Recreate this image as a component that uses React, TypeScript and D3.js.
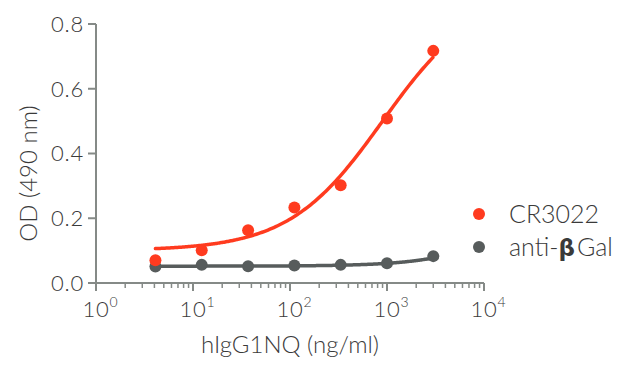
import React, { useEffect, useRef } from 'react'
import * as d3 from 'd3'

// concentrations (ng/ml), 3-fold dilution series
const conc = [4.1, 12.3, 37, 111, 333, 1000, 3000]
const cr3022 = [0.07, 0.101, 0.163, 0.233, 0.302, 0.508, 0.717]
const antiBGal = [0.051, 0.056, 0.052, 0.054, 0.056, 0.061, 0.083]

// 4PL fit params: [bottom, top, ec50, hill]
const cr3022Fit = [0.1, 0.9, 900, 0.9]
const antiBGalFit = [0.052, 0.5, 50000, 1]

const yTicks = [0, 0.2, 0.4, 0.6, 0.8]
const xTicks = [1, 10, 100, 1000, 10000]
// legend labels split so the beta can be drawn bolder, like the source
const seriesNames = [['CR3022'], ['anti-', 'β', 'Gal']]
const colors = ['#ff3b1f', '#575c5c']

const W = 627
const H = 371
const margin = { left: 96, right: 143, top: 24, bottom: 88 }
const axisColor = '#858a87'
const textColor = '#3a3a3a'
const font = '"Lato Light", Lato, "Open Sans", sans-serif'

const fourPL = (p, x) => p[0] + (p[1] - p[0]) / (1 + Math.pow(p[2] / x, p[3]))

const App = () => {
  const ref = useRef(null)

  useEffect(() => {
    const svg = d3.select(ref.current)
    svg.selectAll('*').remove()

    const x = d3.scaleLog().domain([1, 10000]).range([margin.left, W - margin.right])
    const y = d3.scaleLinear().domain([0, 0.8]).range([H - margin.bottom, margin.top])

    const g = svg.append('g')
    const txt = (sel, size) => sel
      .attr('font-family', font).attr('font-weight', 300)
      .attr('font-size', size).attr('fill', textColor)

    // y axis
    g.append('line')
      .attr('x1', x(1)).attr('x2', x(1))
      .attr('y1', y(0.8)).attr('y2', y(0))
      .attr('stroke', axisColor).attr('stroke-width', 2)
    yTicks.forEach(t => {
      g.append('line')
        .attr('x1', x(1) - 8).attr('x2', x(1))
        .attr('y1', y(t)).attr('y2', y(t))
        .attr('stroke', axisColor).attr('stroke-width', 2)
      txt(g.append('text'), 22)
        .attr('x', x(1) - 12).attr('y', y(t))
        .attr('dy', '0.36em')
        .attr('text-anchor', 'end')
        .attr('letter-spacing', 0.8)
        .text(t.toFixed(1))
    })

    // x axis
    g.append('line')
      .attr('x1', x(1)).attr('x2', x(10000))
      .attr('y1', y(0)).attr('y2', y(0))
      .attr('stroke', axisColor).attr('stroke-width', 2)
    const minors = []
    for (let d = 1; d < 10000; d *= 10) {
      for (let k = 2; k <= 9; k++) minors.push(d * k)
    }
    minors.forEach(t => {
      g.append('line')
        .attr('x1', x(t)).attr('x2', x(t))
        .attr('y1', y(0)).attr('y2', y(0) + 5)
        .attr('stroke', axisColor).attr('stroke-width', 1.5)
    })
    xTicks.forEach((t, i) => {
      g.append('line')
        .attr('x1', x(t)).attr('x2', x(t))
        .attr('y1', y(0)).attr('y2', y(0) + 8)
        .attr('stroke', axisColor).attr('stroke-width', 2)
      const lbl = txt(g.append('text'), 22)
        .attr('x', x(t) + 4).attr('y', y(0) + 34)
        .attr('text-anchor', 'middle')
      lbl.append('tspan').attr('letter-spacing', 0.8).text('10')
      lbl.append('tspan').attr('dy', -10).attr('font-size', 14).text(String(i))
    })

    // axis titles
    txt(g.append('text'), 24)
      .attr('x', (x(1) + x(10000)) / 2).attr('y', 353)
      .attr('text-anchor', 'middle')
      .text('hIgG1NQ (ng/ml)')
    txt(g.append('text'), 24)
      .attr('transform', `translate(37,${(y(0) + y(0.8)) / 2 + 20}) rotate(-90)`)
      .attr('text-anchor', 'middle')
      .text('OD (490 nm)')

    // fitted curves
    const xs = d3.range(Math.log10(conc[0]), Math.log10(conc[conc.length - 1]) + 0.001, 0.02).map(v => Math.pow(10, v))
    const line = d3.line().curve(d3.curveBasis)
    const fits = [cr3022Fit, antiBGalFit]
    const series = [cr3022, antiBGal]

    ;[1, 0].forEach(s => {
      g.append('path')
        .attr('d', line(xs.map(v => [x(v), y(fourPL(fits[s], v))])))
        .attr('fill', 'none')
        .attr('stroke', colors[s])
        .attr('stroke-width', 3.5)
        .attr('stroke-linecap', 'round')
      g.selectAll(null)
        .data(series[s])
        .enter()
        .append('circle')
        .attr('cx', (d, i) => x(conc[i]))
        .attr('cy', d => y(d))
        .attr('r', 6)
        .attr('fill', colors[s])
    })

    // legend
    seriesNames.forEach((parts, i) => {
      const ly = 214 + i * 33
      g.append('circle').attr('cx', 479).attr('cy', ly).attr('r', 6).attr('fill', colors[i])
      const t = txt(g.append('text'), 25)
        .attr('x', 509).attr('y', ly)
        .attr('dy', '0.36em')
      parts.forEach(p => {
        const sp = t.append('tspan').text(p)
        if (p === 'β') sp.attr('font-weight', 700).attr('font-family', 'DejaVu Sans, sans-serif').attr('font-size', 23)
        if (p === 'Gal') sp.attr('dx', 2)
      })
    })
  }, [])

  return (
    <svg
      ref={ref}
      width={W}
      height={H}
      style={{ position: 'absolute', left: 0, top: 0, background: '#fff' }}
    />
  )
}

export default App
